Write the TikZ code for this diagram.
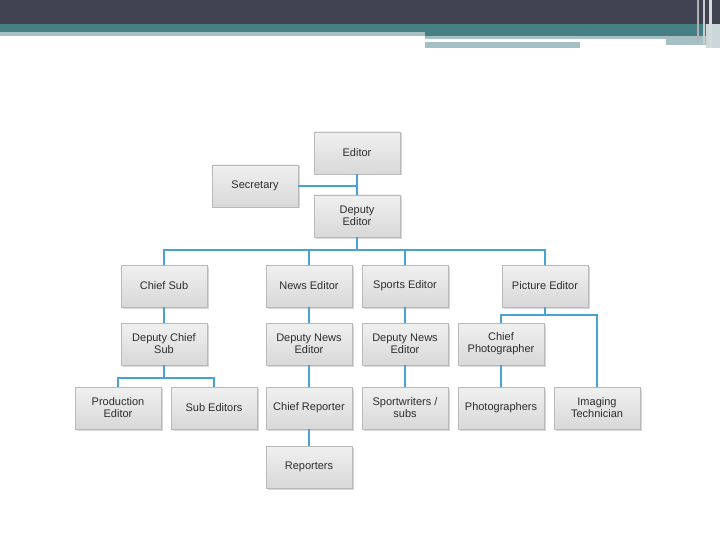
\documentclass[tikz,border=0pt]{standalone}
\usepackage{fontspec}
\setmainfont{Liberation Sans}
\usetikzlibrary{shadows}

\definecolor{barDark}{RGB}{65,66,82}
\definecolor{barTeal}{RGB}{70,127,131}
\definecolor{barLight}{RGB}{166,191,194}
\definecolor{linkBlue}{RGB}{72,162,212}
\definecolor{boxTop}{RGB}{240,240,240}
\definecolor{boxBot}{RGB}{216,216,216}
\definecolor{boxEdge}{RGB}{185,185,185}
\definecolor{txt}{RGB}{45,45,45}

\begin{document}
\begin{tikzpicture}[
  x=1pt, y=-1pt,
  every node/.style={font=\fontsize{11}{12}\selectfont, text=txt},
  post/.style={draw=boxEdge, line width=0.5pt,
    top color=boxTop, bottom color=boxBot,
    minimum width=86pt, minimum height=42pt,
    align=center, inner sep=2pt,
    drop shadow={shadow xshift=1.5pt, shadow yshift=-1.5pt,
      opacity=0.35, fill=black!45}},
  link/.style={draw=linkBlue, line width=1.4pt},
]

\useasboundingbox (0,0) rectangle (720,540);
\fill[white] (0,0) rectangle (720,540);

% ---- Title bar ----
\fill[barDark] (0,0) rectangle (720,24);
\fill[barTeal] (0,24) rectangle (720,32);
\fill[barLight] (0,32) rectangle (425,36);
\fill[barTeal] (425,32) rectangle (706,36);
\fill[barLight] (425,36) rectangle (666,39);
\fill[barLight] (666,36) rectangle (706,45);
\fill[barLight] (425,42) rectangle (580,48);
\fill[barLight!60] (706,24) rectangle (720,48);
\fill[black!30] (697,0) rectangle (699,40);
\fill[black!20] (703,0) rectangle (705,44);
\fill[black!15] (709,0) rectangle (712,48);

% ---- Top level ----
\node[post] (ed)  at (357,153) {Editor};
\node[post] (sec) at (255,186) {Secretary};
\node[post] (dep) at (357,216) {Deputy\\Editor};

% ---- Heads of desk ----
\node[post] (cs) at (164,286) {Chief Sub};
\node[post] (ne) at (309,286) {News Editor};
\node[post] (se) at (405,286) {Sports Editor};
\node[post] (pe) at (545,286) {Picture Editor};

% ---- Deputies ----
\node[post] (dcs) at (164,344) {Deputy Chief\\Sub};
\node[post] (dne) at (309,344) {Deputy News\\Editor};
\node[post] (dse) at (405,344) {Deputy News\\Editor};
\node[post] (cp)  at (501,344) {Chief\\Photographer};

% ---- Staff ----
\node[post] (pro) at (118,408) {Production\\Editor};
\node[post] (sub) at (214,408) {Sub Editors};
\node[post] (cr)  at (309,408) {Chief Reporter};
\node[post] (sw)  at (405,408) {Sportwriters /\\subs};
\node[post] (ph)  at (501,408) {Photographers};
\node[post] (it)  at (597,408) {Imaging\\Technician};
\node[post] (rep) at (309,467) {Reporters};

% ---- Connectors ----
\draw[link] (ed.south) -- (dep.north);
\draw[link] (sec.east) -- (sec.east -| ed.south);

\coordinate (deskbus) at (357,250);
\draw[link] (dep.south) -- (deskbus);
\draw[link] (cs.north) |- (deskbus) -| (pe.north);
\draw[link] (ne.north) -- (ne.north |- deskbus);
\draw[link] (se.north) -- (se.north |- deskbus);

\draw[link] (cs.south) -- (dcs.north);
\coordinate (subbus) at (164,378);
\draw[link] (dcs.south) -- (subbus);
\draw[link] (pro.north) |- (subbus) -| (sub.north);

\draw[link] (ne.south) -- (dne.north);
\draw[link] (dne.south) -- (cr.north);
\draw[link] (cr.south) -- (rep.north);

\draw[link] (se.south) -- (dse.north);
\draw[link] (dse.south) -- (sw.north);

\coordinate (picbus) at (545,315);
\draw[link] (pe.south) -- (picbus);
\draw[link] (cp.north) |- (picbus) -| (it.north);
\draw[link] (cp.south) -- (ph.north);

\end{tikzpicture}
\end{document}
